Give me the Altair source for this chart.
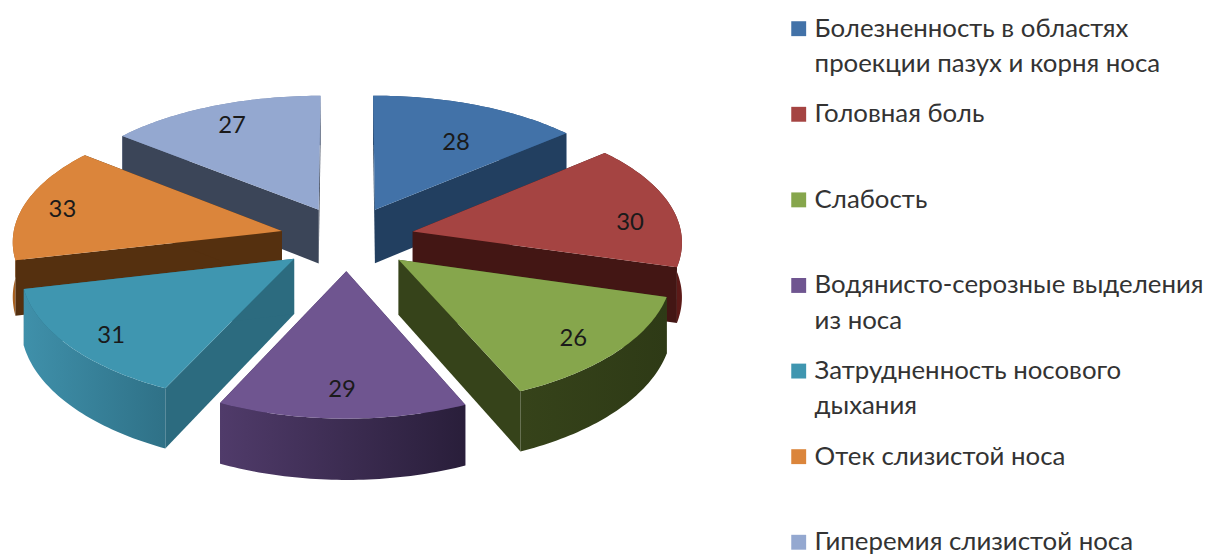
import math
import altair as alt

categories = ["Болезненность в областях\nпроекции пазух и корня носа", "Головная боль", "Слабость",
              "Водянисто-серозные выделения\nиз носа", "Затрудненность носового\nдыхания",
              "Отек слизистой носа", "Гиперемия слизистой носа"]
values = [28, 30, 26, 29, 31, 33, 27]
top_colors = ["#4272A8", "#A54442", "#86A64C", "#6F5590", "#3F96B0", "#DB853B", "#94A8D0"]
cut_colors = ["#223F60", "#431614", "#36431A", "#3A2A55", "#2C6B7F", "#55300F", "#3B4558"]
rim_left = ["#2E5480", "#5C1A18", "#36431A", "#503B6A", "#3F90AA", "#A8601F", "#7C8DB0"]
rim_right = ["#2E5480", "#5C1A18", "#2E3A16", "#291E3A", "#2F7187", "#A8601F", "#7C8DB0"]
draw_order = [6, 0, 5, 1, 4, 2, 3]
rim_first = [0, 1, 5, 6]
# the 3D view of the reference bends the slice boundaries by these degrees
view_bend = [0, 0, 3.6, 7.8, 6.1, 2.9, -3.4, 0]
label_shift = [(-2, 14), (11, 9), (2, 3), (-1, -1), (-5, 4), (-14, -2), (-1, -4)]

CX, CY, RX, RY, KY, KX, EXPLODE, DEPTH = 341.5, 230, 271, 129.5, 0.0868, 0.07, 0.25, 55

total = sum(values)
edges = [0.0]
for val in values:
    edges.append(edges[-1] + val / total * 360)
edges = [e + b for e, b in zip(edges, view_bend)]
mids = [(edges[i] + edges[i + 1]) / 2 for i in range(len(values))]


def project(x, v, z=0.0):
    p = 1 / (1 + KY * v)
    return [CX + RX * x / (1 + KX * v), CY - RY * v * p + z * DEPTH * p]


def world(i, r, theta):
    m = math.radians(mids[i])
    return (EXPLODE * math.sin(m) + r * math.sin(theta), EXPLODE * math.cos(m) + r * math.cos(theta))


def feature(points, color):
    return {"type": "Feature", "geometry": {"type": "Polygon", "coordinates": [points + [points[0]]]},
            "properties": {"color": color}}


def geo(features):
    return alt.InlineData(values={"type": "FeatureCollection", "features": features},
                          format=alt.DataFormat(property="features", type="json"))


PROJ = dict(type="identity", scale=1, translate=[0, 0])
layers = []
for i in draw_order:
    a0, a1 = math.radians(edges[i]), math.radians(edges[i + 1])
    apex = world(i, 0, 0)
    n = 48
    thetas = [a0 + (a1 - a0) * t / n for t in range(n + 1)]
    rim = [world(i, 1, t) for t in thetas]
    cuts = [feature([project(*apex, 0), project(*c, 0), project(*c, 1), project(*apex, 1)], cut_colors[i])
            for c in (rim[0], rim[-1])]
    outer = feature([project(*p, 0) for p in rim] + [project(*p, 1) for p in reversed(rim)], rim_left[i])
    top = feature([project(*apex, 0)] + [project(*p, 0) for p in rim], top_colors[i])
    fill = alt.Fill("properties.color:N", scale=None, legend=None)
    rim_layer = alt.Chart(geo([outer])).mark_geoshape(
        strokeWidth=0,
        fill=alt.LinearGradient(gradient="linear", x1=0, x2=1, y1=0, y2=0,
                                stops=[alt.GradientStop(color=rim_left[i], offset=0),
                                       alt.GradientStop(color=rim_right[i], offset=1)]),
    ).project(**PROJ)
    cut_layer = alt.Chart(geo(cuts)).mark_geoshape(strokeWidth=0).encode(fill=fill).project(**PROJ)
    top_layer = alt.Chart(geo([top])).mark_geoshape(strokeWidth=0).encode(fill=fill).project(**PROJ)
    layers += [rim_layer, cut_layer, top_layer] if i in rim_first else [cut_layer, rim_layer, top_layer]

label_rows = []
for i in range(len(values)):
    m = math.radians(mids[i])
    px = project(*world(i, 0.8, m))
    label_rows.append({"lon": px[0] + label_shift[i][0], "lat": px[1] + label_shift[i][1], "value": values[i]})

legend_rows = [{"name": c, "color": col, "rank": str(k)} for k, (c, col) in enumerate(zip(categories, top_colors))]

labels = alt.Chart(alt.Data(values=label_rows)).mark_text(font="Lato", fontSize=24, dy=4, color="#1a1a1a").encode(
    longitude="lon:Q", latitude="lat:Q", text="value:Q"
).project(**PROJ)

yscale = alt.Scale(type="point", padding=0, domain=[str(k) for k in range(7)], range=[19, 536])
squares = alt.Chart(alt.Data(values=legend_rows)).mark_square(size=225, opacity=1).encode(
    x=alt.value(796), y=alt.Y("rank:N", scale=yscale, axis=None),
    color=alt.Color("color:N", scale=None, legend=None))
texts = alt.Chart(alt.Data(values=legend_rows)).mark_text(
    font="Lato", fontSize=26, lineBreak="\n", lineHeight=35.5, align="left", baseline="top", dy=-13, color="#333333",
).encode(x=alt.value(812), y=alt.Y("rank:N", scale=yscale, axis=None), text="name:N")

chart = alt.layer(*layers, labels, squares, texts).properties(
    width=1203, height=546, padding=0, autosize=alt.AutoSizeParams(type="none")).configure_view(stroke=None)
chart.save("out.html", embed_options={"renderer": "svg", "actions": False})
